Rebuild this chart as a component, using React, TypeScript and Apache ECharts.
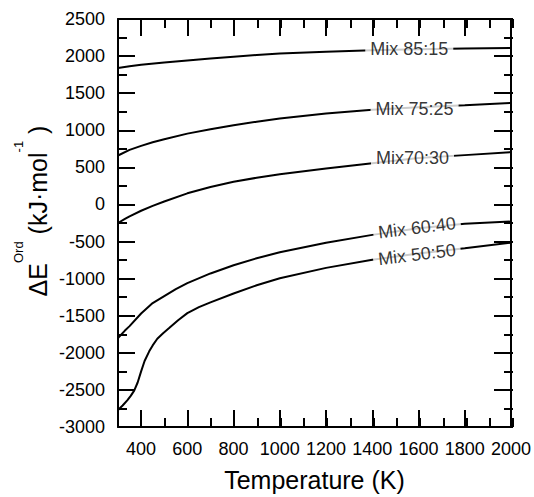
import React, { useEffect, useRef, useState } from "react";
import * as echarts from "echarts";

const xMin = 300;
const xMax = 2000;
const yMin = -3000;
const yMax = 2500;
const xMajorTicks = [400, 600, 800, 1000, 1200, 1400, 1600, 1800, 2000];

const mix8515 = [[300, 1840], [350, 1862], [400, 1882], [500, 1912], [600, 1940], [700, 1966], [800, 1990], [900, 2014], [1000, 2035], [1200, 2058], [1400, 2078], [1600, 2092], [1800, 2102], [2000, 2108]];
const mix7525 = [[300, 660], [350, 735], [400, 790], [450, 838], [500, 880], [600, 955], [700, 1015], [800, 1068], [900, 1115], [1000, 1158], [1200, 1225], [1400, 1278], [1600, 1312], [1800, 1338], [2000, 1368]];
const mix7030 = [[300, -250], [330, -195], [350, -160], [400, -85], [450, -20], [500, 40], [600, 150], [700, 235], [800, 305], [900, 360], [1000, 408], [1200, 485], [1400, 555], [1600, 625], [1800, 665], [2000, 705]];
const mix6040 = [[300, -1800], [330, -1700], [350, -1640], [400, -1470], [450, -1330], [500, -1235], [550, -1140], [600, -1060], [700, -930], [800, -820], [900, -725], [1000, -645], [1200, -515], [1400, -410], [1600, -320], [1800, -260], [2000, -230]];
const mix5050 = [[300, -2770], [320, -2710], [340, -2640], [355, -2580], [370, -2510], [385, -2400], [400, -2250], [415, -2110], [435, -1980], [450, -1900], [470, -1810], [495, -1735], [520, -1670], [560, -1560], [600, -1465], [650, -1385], [700, -1320], [800, -1200], [900, -1090], [1000, -995], [1200, -855], [1400, -745], [1600, -660], [1800, -590], [2000, -515]];

const seriesNames = ["Mix 85:15", "Mix 75:25", "Mix70:30", "Mix 60:40", "Mix 50:50"];
const seriesData = [mix8515, mix7525, mix7030, mix6040, mix5050];
const labelPoints = [[1560, 2096], [1583, 1290], [1574, 628], [1593, -315], [1593, -675]];
const labelRotations = [0, 0, 0, 7, 7];

const FONT = "Liberation Sans, Arial, sans-serif";

export default function App() {
  const ref = useRef<HTMLDivElement>(null);
  const [, setDone] = useState(0);
  useEffect(() => {
    if (!ref.current) return;
    const chart = echarts.init(ref.current, null, { renderer: "svg", width: 534, height: 497 });
    const gridPos = { left: 118, right: 21, top: 19, bottom: 70 };
    const tickStyle = { color: "#000", width: 2 };
    const majorX = (position: string, showLabel: boolean, name?: string) => ({
      type: "value",
      gridIndex: 0,
      position,
      min: xMin,
      max: xMax,
      interval: 100,
      name,
      nameLocation: "middle",
      nameGap: 40,
      nameTextStyle: { fontSize: 25, color: "#000", fontFamily: FONT },
      axisLine: { show: true, onZero: false, lineStyle: { color: "#000", width: 2 } },
      axisTick: { show: true, inside: true, length: 17, customValues: xMajorTicks, lineStyle: tickStyle },
      axisLabel: { show: showLabel, customValues: xMajorTicks, fontSize: 18, color: "#000", margin: 13, fontFamily: FONT, formatter: (v: number) => String(v) },
      splitLine: { show: false },
    });
    const minorX = (position: string) => ({
      type: "value",
      gridIndex: 1,
      position,
      min: xMin,
      max: xMax,
      interval: 100,
      axisLine: { show: false, onZero: false },
      axisTick: { show: true, inside: true, length: 9, lineStyle: tickStyle },
      axisLabel: { show: false },
      splitLine: { show: false },
    });
    const yAx = (position: string, showLabel: boolean) => ({
      type: "value",
      gridIndex: 0,
      position,
      min: yMin,
      max: yMax,
      interval: 500,
      axisLine: { show: true, onZero: false, lineStyle: { color: "#000", width: 2 } },
      axisTick: { show: true, inside: true, length: 17, lineStyle: tickStyle },
      axisLabel: { show: showLabel, fontSize: 18, color: "#000", margin: 13, fontFamily: FONT, formatter: (v: number) => String(v) },
      splitLine: { show: false },
    });
    const minorY = (position: string) => ({
      type: "value",
      gridIndex: 1,
      position,
      min: yMin,
      max: yMax,
      interval: 250,
      axisLine: { show: false, onZero: false },
      axisTick: { show: true, inside: true, length: 9, lineStyle: tickStyle },
      axisLabel: { show: false },
      splitLine: { show: false },
    });

    const lineSeries = seriesData.map((d, i) => ({
      type: "line",
      name: seriesNames[i],
      xAxisIndex: 0,
      yAxisIndex: 0,
      data: d,
      showSymbol: false,
      lineStyle: { color: "#000", width: 2 },
      z: 2,
    }));
    const labelSeries = labelPoints.map((p, i) => ({
      type: "scatter",
      xAxisIndex: 0,
      yAxisIndex: 0,
      data: [p],
      symbolSize: 1,
      itemStyle: { color: "rgba(0,0,0,0)" },
      z: 5,
      label: {
        show: true,
        position: "inside",
        formatter: seriesNames[i],
        rotate: labelRotations[i],
        fontSize: 18,
        color: "#000",
        fontFamily: FONT,
        backgroundColor: "#fff",
        padding: [1, 5],
      },
    }));

    chart.setOption({
      animation: false,
      grid: [{ ...gridPos }, { ...gridPos }],
      xAxis: [majorX("bottom", true, "Temperature (K)"), majorX("top", false), minorX("bottom"), minorX("top")],
      yAxis: [yAx("left", true), yAx("right", false), minorY("left"), minorY("right")],
      series: [...lineSeries, ...labelSeries],
    });
    const svg = ref.current.querySelector("svg");
    setDone(svg ? svg.innerHTML.length : 1);
    return () => chart.dispose();
  }, []);
  const supStyle: React.CSSProperties = { fontSize: 13, position: "relative", top: -24 };
  return (
    <div style={{ position: "fixed", left: 0, top: 0, width: 534, height: 497, background: "#fff" }}>
      <div ref={ref} style={{ position: "absolute", left: 0, top: 0, width: 534, height: 497 }} />
      <div
        style={{
          position: "absolute",
          left: 40,
          top: 211,
          transform: "translate(-50%, -50%) rotate(-90deg)",
          whiteSpace: "nowrap",
          fontFamily: FONT,
          fontSize: 25,
          lineHeight: "25px",
          color: "#000",
          zIndex: 2,
        }}
      >
        ΔE<span style={supStyle}>Ord</span> (kJ·mol<span style={supStyle}>-1</span> )
      </div>
    </div>
  );
}
